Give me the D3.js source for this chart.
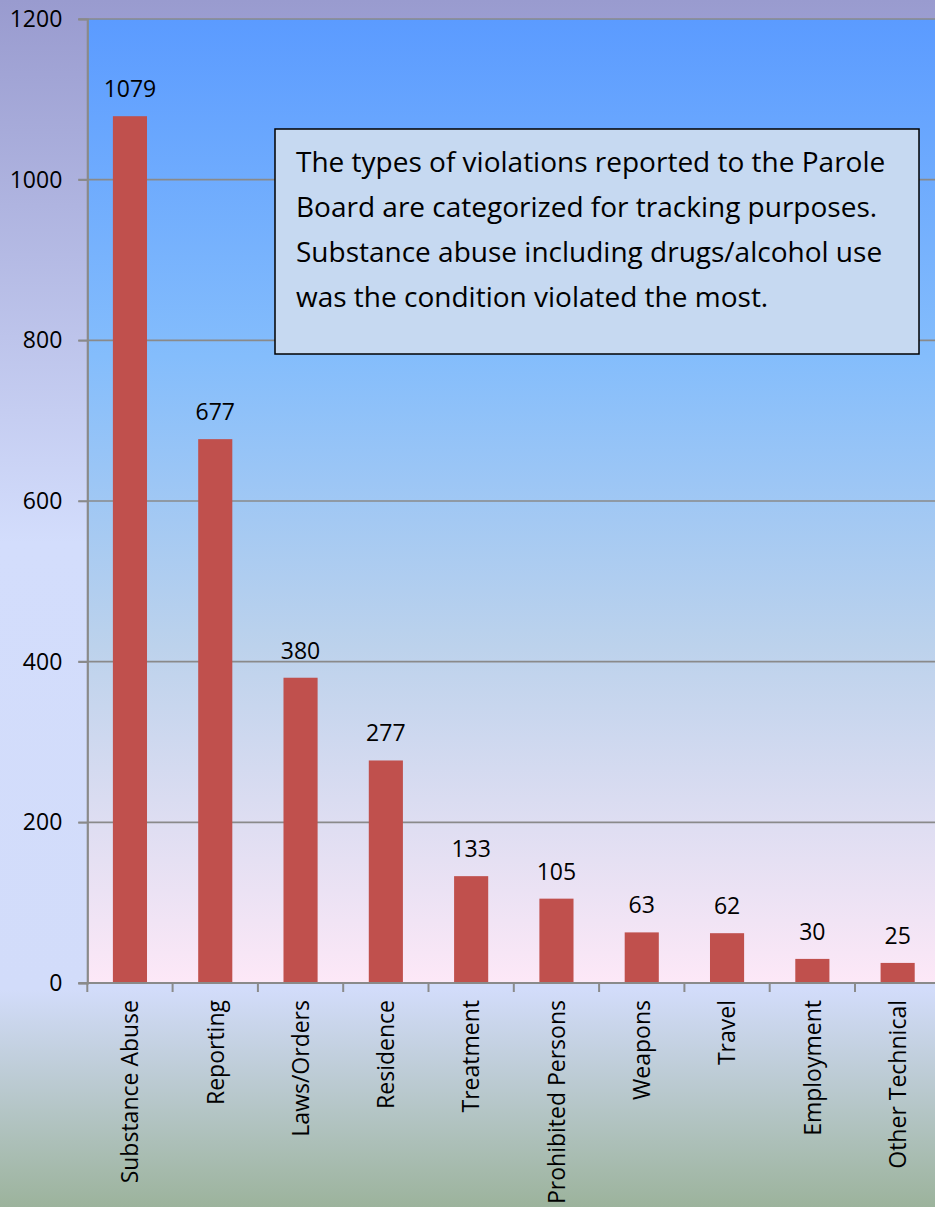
<!DOCTYPE html>
<html>
<head>
<meta charset="utf-8">
<script src="https://cdn.jsdelivr.net/npm/d3@7"></script>
<style>
  body { margin: 0; padding: 0; overflow: hidden; }
  svg text { font-family: "Open Sans", "DejaVu Sans", sans-serif; fill: #000; }
</style>
</head>
<body>
<div id="chart"></div>
<script>
// Violation types reported to the Parole Board.
var categories = ["Substance Abuse", "Reporting", "Laws/Orders", "Residence", "Treatment",
                  "Prohibited Persons", "Weapons", "Travel", "Employment", "Other Technical"];
var counts = [1079, 677, 380, 277, 133, 105, 63, 62, 30, 25];
var yTicks = [0, 200, 400, 600, 800, 1000, 1200];
var noteLines = ["The types of violations reported to the Parole",
                 "Board are categorized for tracking purposes.",
                 "Substance abuse including drugs/alcohol use",
                 "was the condition violated the most."];

var width = 935, height = 1207;
var plotLeft = 87.3, plotTop = 19, plotBottom = 983;
var step = 85.3;

var svg = d3.select('#chart')
            .append('svg')
            .attr('width', width)
            .attr('height', height);

var defs = svg.append('defs');

// Outer background gradient (lavender -> pale blue -> grey green).
var bg = defs.append('linearGradient')
             .attr('id', 'bgGrad')
             .attr('x1', 0).attr('y1', 0).attr('x2', 0).attr('y2', 1);
bg.append('stop').attr('offset', '0%').attr('stop-color', '#999bcf');
bg.append('stop').attr('offset', '45%').attr('stop-color', '#d3ddfc');
bg.append('stop').attr('offset', '82%').attr('stop-color', '#d2dcfa');
bg.append('stop').attr('offset', '100%').attr('stop-color', '#9cb39c');

// Plot area gradient (blue -> pale pink).
var pg = defs.append('linearGradient')
             .attr('id', 'plotGrad')
             .attr('x1', 0).attr('y1', 0).attr('x2', 0).attr('y2', 1);
pg.append('stop').attr('offset', '0%').attr('stop-color', '#5b9bff');
pg.append('stop').attr('offset', '35%').attr('stop-color', '#84bdfc');
pg.append('stop').attr('offset', '65%').attr('stop-color', '#bcd2ec');
pg.append('stop').attr('offset', '100%').attr('stop-color', '#fde8f7');

svg.append('rect')
   .attr('width', width)
   .attr('height', height)
   .attr('fill', 'url(#bgGrad)');

var x = d3.scaleBand()
          .domain(categories)
          .range([plotLeft, plotLeft + step * categories.length])
          .paddingInner(0.6)
          .paddingOuter(0.3);

var y = d3.scaleLinear()
          .domain([0, 1200])
          .range([plotBottom, plotTop]);

svg.append('rect')
   .attr('x', plotLeft)
   .attr('y', plotTop)
   .attr('width', step * categories.length)
   .attr('height', plotBottom - plotTop)
   .attr('fill', 'url(#plotGrad)');

// Gridlines
svg.selectAll('.grid')
   .data(yTicks.filter(function(d) { return d > 0; }))
   .enter()
   .append('line')
   .attr('x1', plotLeft - 9)
   .attr('x2', width)
   .attr('y1', function(d) { return y(d); })
   .attr('y2', function(d) { return y(d); })
   .attr('stroke', '#8a8a8a')
   .attr('stroke-width', 1.6);

// Y axis
var yAxis = d3.axisLeft(y)
              .tickValues(yTicks)
              .tickFormat(d3.format('d'))
              .tickSize(9)
              .tickPadding(16);
var gy = svg.append('g')
            .attr('transform', 'translate(' + plotLeft + ',0)')
            .call(yAxis);
gy.select('.domain').attr('stroke', '#8a8a8a').attr('stroke-width', 2.2);
gy.selectAll('.tick line').attr('stroke', '#8a8a8a').attr('stroke-width', 1.6);
gy.selectAll('.tick text')
  .style('font-family', '"Open Sans", sans-serif')
  .style('font-size', '23px')
  .attr('fill', '#000');

// Bars
svg.selectAll('.bar')
   .data(counts)
   .enter()
   .append('rect')
   .attr('x', function(d, i) { return x(categories[i]); })
   .attr('y', function(d) { return y(d); })
   .attr('width', x.bandwidth())
   .attr('height', function(d) { return plotBottom - y(d); })
   .attr('fill', '#c0504d');

// Value labels
svg.selectAll('.val')
   .data(counts)
   .enter()
   .append('text')
   .attr('x', function(d, i) { return x(categories[i]) + x.bandwidth() / 2; })
   .attr('y', function(d) { return y(d) - 19; })
   .attr('text-anchor', 'middle')
   .style('font-size', '23px')
   .text(function(d) { return d; });

// X axis line and ticks at band boundaries
var boundaries = d3.range(categories.length + 1).map(function(i) { return plotLeft + i * step; });
svg.append('line')
   .attr('x1', plotLeft - 9)
   .attr('x2', width)
   .attr('y1', plotBottom)
   .attr('y2', plotBottom)
   .attr('stroke', '#8a8a8a')
   .attr('stroke-width', 2.2);
svg.selectAll('.xtick')
   .data(boundaries)
   .enter()
   .append('line')
   .attr('x1', function(d) { return d; })
   .attr('x2', function(d) { return d; })
   .attr('y1', plotBottom)
   .attr('y2', plotBottom + 9)
   .attr('stroke', '#8a8a8a')
   .attr('stroke-width', 2);

// Category labels, rotated
svg.selectAll('.cat')
   .data(categories)
   .enter()
   .append('text')
   .attr('transform', function(d) {
       return 'translate(' + (x(d) + x.bandwidth() / 2) + ',1000) rotate(-90)';
   })
   .attr('text-anchor', 'end')
   .attr('dy', '0.36em')
   .style('font-size', '23px')
   .text(function(d) { return d; });

// Note box
var note = svg.append('g').attr('transform', 'translate(275,129)');
note.append('rect')
    .attr('width', 644)
    .attr('height', 225)
    .attr('fill', '#c6d9f1')
    .attr('stroke', '#000')
    .attr('stroke-width', 1.5);
note.selectAll('text')
    .data(noteLines)
    .enter()
    .append('text')
    .attr('x', 21)
    .attr('y', function(d, i) { return 43 + i * 45; })
    .style('font-size', '28px')
    .text(function(d) { return d; });
</script>
</body>
</html>
